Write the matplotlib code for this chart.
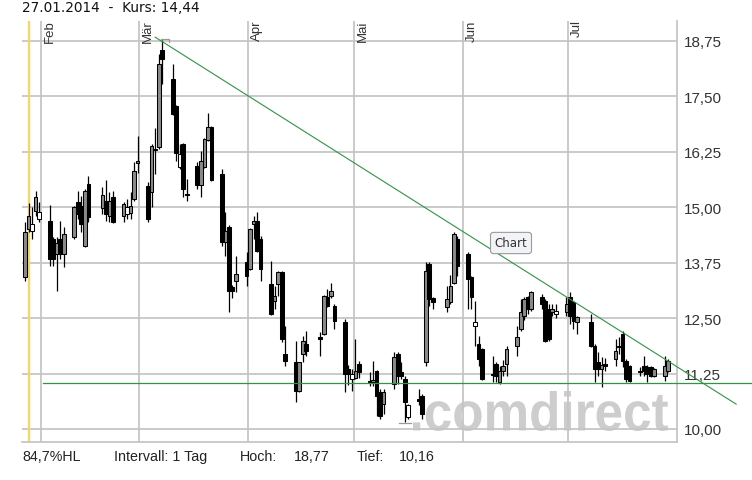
#!/usr/bin/env python3
"""
Daily candlestick chart (comdirect style), Jan-Jul 2014.
Writes out.png in the current folder.
"""
import numpy as np
import pandas as pd

import matplotlib
matplotlib.use('Agg')
import matplotlib.pyplot as plt
from matplotlib.textpath import TextPath
from matplotlib.patches import PathPatch
from matplotlib.font_manager import FontProperties
from matplotlib.transforms import Affine2D, blended_transform_factory

# ---- data --------------------------------------------------------------
first_day = '2014-01-27'
last_day = '2014-07-29'
holidays = ['2014-02-17', '2014-04-18', '2014-05-26', '2014-07-04']

opens = [
    13.42, 14.50, 14.47, 14.92, 14.73,                                  # Jan
    14.69, 14.28, 13.94, 14.28, 13.94, 14.33, 15.11, 15.03, 14.13, 15.52,
    14.99, 15.14, 14.81, 15.22, 14.81, 14.84, 14.86, 15.18, 16.00,      # Feb
    15.48, 15.33, 16.30, 16.35, 18.55, 17.89, 17.28, 15.90, 16.42, 15.30,
    15.92, 15.50, 15.90, 16.52, 16.80, 15.75, 14.22, 14.55, 13.20, 13.34,
    13.76,                                                              # Mar
    13.60, 14.62, 14.69, 14.28, 13.27, 12.89, 13.27, 13.53, 11.69, 11.50,
    10.86, 11.69, 11.92, 12.07, 12.14, 12.97, 13.00, 12.78, 12.40, 11.35,
    11.13,                                                              # Apr
    11.16, 11.46, 11.09, 11.05, 11.31, 10.83, 10.56, 11.01, 11.69, 11.28,
    11.13, 10.27, 10.68, 10.75, 11.50, 13.72, 12.95, 12.76, 12.86, 13.30,
    14.28,                                                              # May
    13.94, 13.42, 12.33, 11.92, 11.80, 11.25, 11.46, 11.05, 11.30, 11.46,
    11.88, 12.25, 12.55, 12.97, 12.70, 12.97, 12.89, 12.70, 12.63, 12.60,
    12.63,                                                              # Jun
    12.97, 12.86, 12.40, 12.40, 11.88, 11.50, 11.35, 11.47, 11.58, 11.84,
    12.14, 11.54, 11.43, 11.30, 11.43, 11.39, 11.39, 11.19, 11.19, 11.31,  # Jul
]
highs = [
    14.66, 15.10, 15.00, 15.37, 15.11,
    15.05, 14.33, 14.33, 14.69, 14.55, 15.02, 15.37, 15.26, 15.40, 15.71,
    15.45, 15.60, 15.34, 15.37, 15.11, 15.18, 15.34, 16.01, 16.60,
    15.56, 16.42, 16.78, 18.45, 18.77, 18.22, 17.30, 16.42, 16.45, 15.63,
    16.01, 16.27, 16.55, 17.13, 16.82, 15.86, 14.88, 14.60, 13.25, 13.90,
    13.98,
    14.52, 14.81, 14.88, 14.36, 13.79, 13.23, 13.57, 13.55, 12.33, 11.99,
    11.52, 12.10, 12.21, 12.18, 13.02, 13.15, 13.30, 12.82, 12.48, 11.45,
    11.35,
    12.03, 11.54, 11.28, 11.54, 11.32, 10.90, 10.90, 11.73, 11.73, 11.50,
    11.20, 10.56, 10.90, 10.78, 13.76, 13.76, 12.97, 13.23, 13.48, 14.43,
    14.36,
    13.98, 13.45, 12.89, 12.10, 11.82, 11.65, 11.50, 11.42, 11.55, 11.88,
    12.33, 12.93, 12.97, 13.00, 13.12, 13.05, 12.93, 12.82, 12.82, 12.82,
    12.97,
    13.08, 12.89, 12.55, 12.59, 11.92, 11.73, 11.62, 11.60, 12.03, 12.07,
    12.21, 11.58, 11.45, 11.39, 11.64, 11.45, 11.42, 11.37, 11.64, 11.58,
]
lows = [
    13.34, 14.45, 14.28, 14.81, 14.66,
    13.68, 13.68, 13.12, 13.83, 13.65, 14.28, 14.73, 14.44, 14.10, 14.66,
    14.84, 14.69, 14.66, 14.64, 14.66, 14.73, 14.73, 15.14, 15.78,
    14.66, 15.00, 15.75, 16.30, 17.77, 17.08, 16.05, 15.85, 15.23, 15.14,
    15.41, 15.22, 15.88, 16.50, 15.58, 14.13, 13.90, 12.63, 12.95, 13.08,
    13.23,
    13.58, 14.28, 13.98, 13.34, 12.57, 12.70, 13.00, 11.96, 11.43, 10.60,
    10.84, 11.50, 11.65, 11.65, 12.12, 12.75, 12.95, 12.25, 10.83, 11.00,
    10.86,
    11.13, 11.16, 10.98, 10.98, 10.30, 10.23, 10.34, 10.90, 11.01, 11.13,
    10.16, 10.22, 10.53, 10.23, 11.43, 12.78, 12.70, 12.63, 12.82, 13.27,
    13.45,
    12.70, 12.70, 11.88, 11.43, 11.10, 11.05, 11.05, 11.02, 11.20, 11.20,
    11.65, 12.21, 12.45, 12.60, 12.67, 12.70, 11.97, 11.99, 12.55, 12.50,
    12.55,
    12.37, 12.25, 12.14, 11.84, 11.05, 11.20, 10.94, 11.30, 11.43, 11.70,
    11.39, 11.05, 11.05, 11.20, 11.20, 11.05, 11.18, 11.17, 11.09, 11.28,
]
closes = [
    14.44, 14.80, 14.62, 15.22, 14.88,
    13.83, 13.83, 14.20, 13.94, 14.39, 15.00, 14.84, 14.62, 15.37, 14.78,
    15.27, 14.84, 15.14, 14.66, 15.07, 15.00, 15.03, 15.82, 16.05,
    14.73, 16.38, 16.28, 18.22, 18.34, 17.10, 16.23, 16.20, 15.41, 15.28,
    15.50, 16.05, 16.53, 16.80, 15.60, 14.21, 14.47, 13.12, 13.12, 13.49,
    13.45,
    14.51, 14.69, 14.02, 13.60, 12.59, 13.00, 13.53, 12.03, 11.54, 10.86,
    11.50, 11.99, 11.76, 12.03, 13.00, 12.78, 13.12, 12.44, 11.24, 11.25,
    11.24,
    11.31, 11.28, 11.05, 11.10, 10.75, 10.30, 10.83, 11.62, 11.20, 11.20,
    10.60, 10.53, 10.64, 10.34, 13.57, 12.93, 12.86, 12.93, 13.23, 14.39,
    13.68,
    13.38, 12.97, 12.40, 11.58, 11.13, 11.22, 11.20, 11.31, 11.42, 11.80,
    12.07, 12.63, 12.93, 12.70, 13.08, 12.82, 11.99, 12.03, 12.70, 12.66,
    12.82,
    12.55, 12.44, 12.52, 11.88, 11.35, 11.35, 11.45, 11.43, 11.76, 11.88,
    11.54, 11.13, 11.09, 11.28, 11.31, 11.24, 11.20, 11.35, 11.41, 11.54,
]

price_ticks = [10.00, 11.25, 12.50, 13.75, 15.00, 16.25, 17.50, 18.75]
month_starts = ['2014-02-01', '2014-03-01', '2014-04-01', '2014-05-01',
                '2014-06-01', '2014-07-01']
month_labels = ['Feb', 'Mär', 'Apr', 'Mai', 'Jun', 'Jul']

marker_day = 27.6          # yellow cursor line (day of year)
support_level = 11.03      # horizontal green line
support_start = 31.6
trend_start = (63.5, 18.83)
trend_end = (228.8, 10.56)

header = '27.01.2014  -  Kurs: 14,44'
hl_text = '84,7%HL'
interval_text = 'Intervall: 1 Tag'


def day_of_year(s):
    return pd.Timestamp(s).dayofyear - 1


def fmt(v):
    return f'{v:.2f}'.replace('.', ',')


def main():
    W, H = 752, 481
    fig = plt.figure(figsize=(W / 100, H / 100), dpi=100)
    ax = fig.add_axes([22 / W, 1 - 443 / H, (677 - 22) / W, (443 - 22) / H])

    days = pd.bdate_range(first_day, last_day)
    days = days[~days.isin(pd.to_datetime(holidays))]
    x = np.asarray(days.dayofyear - 1, dtype=float) + 0.5

    o = np.array(opens)
    h = np.array(highs)
    l = np.array(lows)
    c = np.array(closes)
    assert len(x) == len(o) == len(h) == len(l) == len(c)

    grid_col = '#c4c4c4'
    ax.set_xlim(25.62, 211.97)
    ax.set_ylim(9.707, 19.194)
    ax.set_yticks(price_ticks)
    ax.set_yticklabels([fmt(v) for v in price_ticks])
    ax.set_xticks([day_of_year(m) for m in month_starts])
    ax.set_xticklabels([])
    ax.tick_params(axis='y', left=False, right=True, labelleft=False,
                   labelright=True, length=0, pad=5, labelsize=11,
                   labelcolor='#333333')
    ax.tick_params(axis='x', length=0)
    for lab in ax.get_yticklabels():
        lab.set_family(['Liberation Sans', 'DejaVu Sans'])
    ax.set_axisbelow(True)
    ax.grid(True, color=grid_col, lw=1.25)
    for side in ('top', 'left'):
        ax.spines[side].set_visible(False)
    for side in ('right', 'bottom'):
        ax.spines[side].set_color(grid_col)
        ax.spines[side].set_linewidth(1.25)

    # month names, rotated, hanging from the top of each month line
    trans = blended_transform_factory(ax.transData, ax.transAxes)
    for m, lab in zip(month_starts, month_labels):
        ax.text(day_of_year(m) + 0.8, 1.004, lab, rotation=90, ha='left',
                va='top', fontsize=9.5, color='#333333', transform=trans,
                family=['Liberation Sans', 'DejaVu Sans'], clip_on=False)

    # watermark behind the candles
    fp = FontProperties(family=['Liberation Sans', 'DejaVu Sans'],
                        weight='bold')
    tp = TextPath((0, 0), '.comdirect', size=100, prop=fp)
    ext = tp.get_extents()
    x0, x1, ytop, ybase = 413, 668, 392, 432
    wm = (Affine2D().translate(-ext.x0, -ext.y0)
          .scale((x1 - x0) / ext.width / W, (ybase - ytop) / ext.height / H)
          .translate(x0 / W, (H - ybase) / H) + fig.transFigure)
    ax.add_patch(PathPatch(tp, transform=wm, fc='#cdcdcd', ec='none',
                           zorder=0.3))

    # yellow cursor line
    ax.axvline(marker_day, color='#f5d66a', lw=1.7, zorder=1)

    # candles: black = falling, grey = rising above previous close, white otherwise
    prev = np.concatenate([[o[0]], c[:-1]])
    fills = np.where(c < o, 'black', np.where(c > prev, '#8a8a8a', 'white'))
    ax.vlines(x, l, h, color='black', lw=0.9, zorder=2)
    body = np.maximum(np.abs(c - o), 0.025)
    ax.bar(x, body, bottom=np.minimum(o, c), width=1.05, color=fills,
           edgecolor='black', linewidth=0.75, zorder=3)

    # high / low markers
    ih, il = int(np.argmax(h)), int(np.argmin(l))
    ax.plot([x[ih] - 0.3, x[ih] + 1.8, x[ih] + 1.8],
            [h[ih] + 0.02, h[ih] + 0.02, h[ih] - 0.06],
            color='#9a9a9a', lw=0.9, zorder=2.5)
    ax.plot([x[il] - 1.7, x[il] + 1.7], [l[il] - 0.02, l[il] - 0.02],
            color='#9a9a9a', lw=0.9, zorder=2.5)

    # drawn lines (run past the plot frame)
    green = '#2f9444'
    ax.plot([support_start, 240], [support_level, support_level],
            color=green, lw=0.9, clip_on=False, zorder=4)
    ax.plot([trend_start[0], trend_end[0]], [trend_start[1], trend_end[1]],
            color=green, lw=0.8, clip_on=False, zorder=4)

    # tooltip box
    fig.text(511 / W, 1 - 244 / H, 'Chart', ha='center', va='center',
             fontsize=8.5, color='#333333', zorder=10,
             bbox=dict(boxstyle='round,pad=0.35,rounding_size=0.25',
                       fc='#f2f3f7', ec='#9a9a9a', lw=0.8))

    # header and footer texts
    fig.text(22 / W, 1 - 8 / H, header, ha='left', va='center',
             fontsize=9.8, color='#111111')
    foot_y = 1 - 457 / H
    foot = dict(ha='left', va='center', fontsize=10.3, color='#222222',
                family=['Liberation Sans', 'DejaVu Sans'])
    fig.text(22.5 / W, foot_y, hl_text, **foot)
    fig.text(114.3 / W, foot_y, interval_text, **foot)
    fig.text(239.6 / W, foot_y, 'Hoch:', **foot)
    fig.text(294 / W, foot_y, fmt(h.max()), **foot)
    fig.text(356.8 / W, foot_y, 'Tief:', **foot)
    fig.text(399.2 / W, foot_y, fmt(l.min()), **foot)

    fig.savefig('out.png', dpi=100, facecolor='white')
    plt.close(fig)


if __name__ == '__main__':
    main()
